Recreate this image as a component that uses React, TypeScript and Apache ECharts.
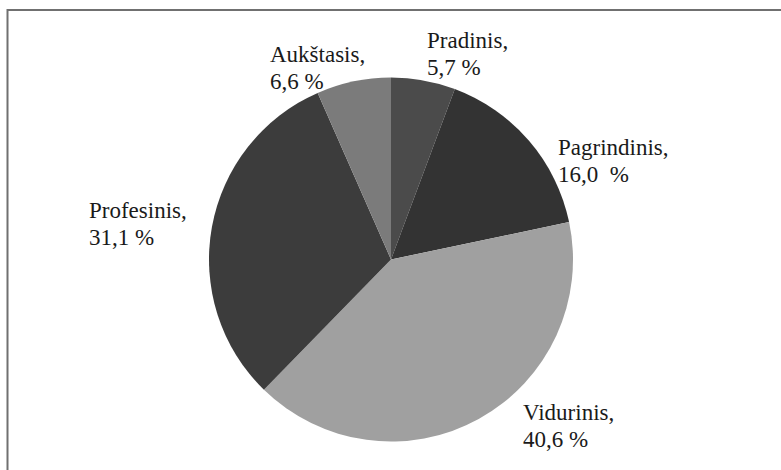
import React, { useEffect, useRef } from "react";
import * as echarts from "echarts";

const categories = ["Pradinis", "Pagrindinis", "Vidurinis", "Profesinis", "Aukštasis"];
const shares = [5.7, 16.0, 40.6, 31.1, 6.6];
const sliceColors = ["#4b4b4b", "#333333", "#a0a0a0", "#3c3c3c", "#7b7b7b"];
// label anchor (left, top) in pixels
const labelPos: [number, number][] = [
  [427, 27],
  [558, 134],
  [523, 399],
  [89, 197],
  [270, 41],
];

const FONT = "Liberation Serif";
const fmt = (v: number) => v.toFixed(1).replace(".", ",");

export default function App() {
  const ref = useRef<HTMLDivElement>(null);
  useEffect(() => {
    document.body.style.margin = "0";
    const chart = echarts.init(ref.current!, undefined, { renderer: "svg" });
    chart.setOption({
      animation: false,
      backgroundColor: "#ffffff",
      textStyle: { fontFamily: FONT },
      graphic: [
        {
          type: "rect",
          shape: { x: 7.5, y: 10, width: 900, height: 600 },
          style: { fill: "none", stroke: "#707070", lineWidth: 2 },
          silent: true,
          z: 0,
        },
      ],
      series: [
        {
          type: "pie",
          center: [391, 259.5],
          radius: 182,
          startAngle: 90,
          clockwise: true,
          silent: true,
          emphasis: { disabled: true },
          itemStyle: { borderWidth: 0 },
          labelLine: { show: false },
          label: {
            show: true,
            position: "outside",
            fontFamily: FONT,
            fontSize: 23,
            lineHeight: 27,
            color: "#1a1a1a",
            formatter: (p: any) =>
              p.dataIndex === 1
                ? `${p.name},\n${fmt(p.value)}  %`
                : `${p.name},\n${fmt(p.value)} %`,
          },
          labelLayout: (params: any) => {
            const pos = labelPos[params.dataIndex];
            return { x: pos[0], y: pos[1], align: "left", verticalAlign: "top" };
          },
          data: categories.map((c, i) => ({
            name: c,
            value: shares[i],
            itemStyle: { color: sliceColors[i] },
          })),
        },
      ],
    });
    return () => chart.dispose();
  }, []);
  return (
    <div
      ref={ref}
      style={{ position: "fixed", left: 0, top: 0, width: 781, height: 470 }}
    />
  );
}
